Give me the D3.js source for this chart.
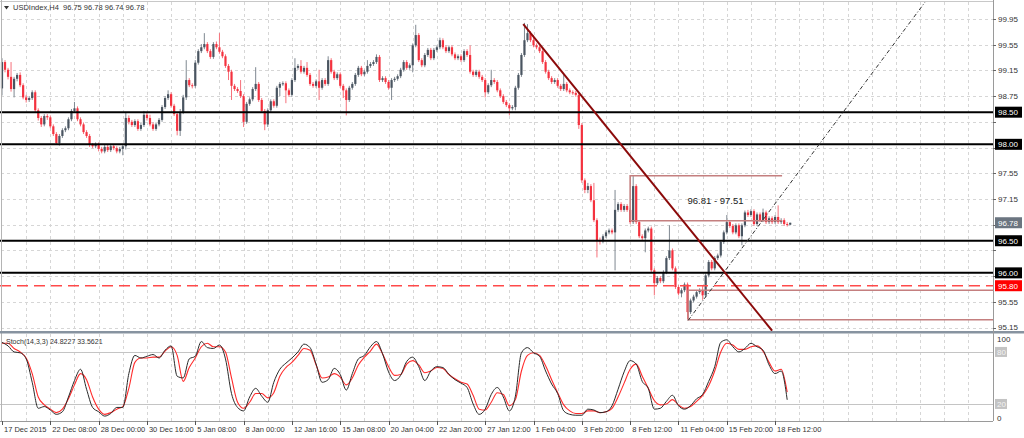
<!DOCTYPE html>
<html><head><meta charset="utf-8">
<script src="https://cdn.jsdelivr.net/npm/d3@7"></script>
<style>
body{margin:0;background:#fff}
svg{display:block}
text{font-family:"Liberation Sans",Arial,sans-serif}
</style>
</head><body>
<svg id="c" width="1024" height="438"></svg>
<script>
// ---------------- DATA ----------------
const symbolTitle = "USDIndex,H4";
const headerOHLC = "96.75 96.78 96.74 96.78";
const stochTitle = "Stoch(14,3,3) 24.8227 33.5621";

const priceTicks = [99.95,99.55,99.15,98.75,98.35,97.95,97.55,97.15,96.75,96.35,95.95,95.55,95.15];
const timeLabels = ["17 Dec 2015","22 Dec 08:00","28 Dec 00:00","30 Dec 16:00","5 Jan 08:00","8 Jan 00:00",
  "12 Jan 16:00","15 Jan 08:00","20 Jan 04:00","22 Jan 20:00","27 Jan 12:00","1 Feb 04:00","3 Feb 20:00",
  "8 Feb 12:00","11 Feb 04:00","15 Feb 20:00","18 Feb 12:00"];
const barsPerLabel = 16;

const supportLevels = [98.50, 98.00, 96.50, 96.00];
const dashedLevel = 95.80;
const lastPrice = 96.78;
const upperRange = [96.81, 97.51];
const lowerRange = [95.27, 95.73];
const rangeText = "96.81 - 97.51";
const trendLine = [[172.6, 99.87], [255.0, 95.10]];
const channelLine = [[227.2, 95.26], [305.6, 100.21]];
const stochLevels = [80, 20];
const stochAxis = [100, 80, 20, 0];

const openP = [
98.87,99.28,99.16,99.05,98.86,99.02,99.08,98.92,98.73,98.69,
98.72,98.81,98.53,98.41,98.31,98.44,98.42,98.28,98.16,98.02,
98.13,98.22,98.25,98.39,98.52,98.56,98.39,98.31,98.19,98.13,
97.99,97.97,98.00,97.93,97.89,97.96,97.91,97.97,97.94,97.89,
97.93,97.97,98.41,98.35,98.30,98.36,98.24,98.30,98.46,98.41,
98.31,98.24,98.31,98.38,98.58,98.72,98.78,98.60,98.47,98.21,
98.50,98.73,99.00,98.92,98.91,99.27,99.45,99.51,99.56,99.45,
99.36,99.56,99.51,99.44,99.37,99.22,99.13,98.91,98.86,98.83,
98.75,98.35,98.63,98.70,98.86,98.94,98.69,98.52,98.31,98.53,
98.67,98.60,98.88,98.94,98.95,98.84,98.77,99.00,99.19,99.22,
99.13,99.19,99.08,98.94,98.91,98.98,98.88,99.00,98.94,99.31,
99.13,99.03,99.09,98.91,98.84,98.69,98.88,98.94,99.08,99.19,
99.09,99.13,99.22,99.25,99.28,99.36,99.00,99.03,98.97,98.88,
99.00,99.02,99.06,99.16,99.28,99.19,99.23,99.54,99.70,99.31,
99.23,99.39,99.47,99.34,99.47,99.51,99.62,99.51,99.45,99.51,
99.40,99.34,99.37,99.31,99.45,99.39,99.13,99.08,99.13,99.05,
99.00,98.81,98.92,99.00,98.97,98.84,98.75,98.66,98.61,98.56,
98.58,98.88,99.08,99.39,99.62,99.73,99.62,99.54,99.51,99.45,
99.28,99.13,99.03,98.97,99.00,98.91,98.86,98.94,98.84,98.81,
98.80,98.77,98.30,97.44,97.29,97.35,97.13,96.82,96.51,96.49,
96.57,96.63,96.66,96.63,96.98,97.07,96.98,97.04,96.98,96.79,
97.35,96.79,96.57,96.54,96.66,96.69,96.04,95.84,95.92,95.87,
96.01,96.23,96.35,96.07,95.78,95.68,95.73,95.82,95.39,95.57,
95.63,95.70,95.73,95.65,95.96,96.17,96.07,96.23,96.27,96.48,
96.63,96.79,96.73,96.63,96.74,96.57,96.74,96.94,96.90,96.96,
96.76,96.91,96.82,96.94,96.79,96.85,96.79,96.87,96.79,96.82,
96.76,96.75];

const highP = [
99.34,99.31,99.19,99.28,99.05,99.11,99.12,98.95,98.77,98.75,
98.84,98.84,98.56,98.44,98.47,98.47,98.45,98.31,98.19,98.16,
98.25,98.28,98.42,98.55,98.66,98.59,98.42,98.34,98.22,98.16,
98.02,98.03,98.03,97.96,97.99,97.99,98.00,98.00,97.97,97.96,
98.00,98.49,98.45,98.38,98.39,98.39,98.33,98.52,98.49,98.46,
98.34,98.34,98.41,98.61,98.75,98.84,98.81,98.63,98.50,98.55,
98.77,99.31,99.03,98.95,99.31,99.48,99.56,99.73,99.59,99.48,
99.59,99.60,99.73,99.47,99.40,99.25,99.16,98.94,98.89,99.00,
98.78,98.66,98.73,98.89,99.20,98.97,98.72,98.55,98.56,98.70,
98.70,98.91,98.97,98.98,98.98,98.87,99.03,99.34,99.25,99.31,
99.22,99.28,99.11,98.97,99.01,99.16,99.03,99.03,99.37,99.34,
99.16,99.12,99.12,98.94,98.87,98.91,98.97,99.11,99.22,99.22,
99.16,99.31,99.28,99.31,99.40,99.39,99.06,99.06,99.00,99.03,
99.05,99.09,99.19,99.31,99.31,99.26,99.57,99.86,99.73,99.34,
99.42,99.50,99.50,99.50,99.54,99.66,99.65,99.54,99.54,99.54,
99.43,99.40,99.40,99.48,99.48,99.54,99.16,99.16,99.16,99.08,
99.03,98.95,99.16,99.03,99.00,98.87,98.78,98.69,98.64,98.61,
98.91,99.11,99.42,99.89,99.87,99.76,99.70,99.57,99.54,99.48,
99.31,99.16,99.06,99.03,99.03,98.94,99.08,98.97,98.87,98.84,
98.83,98.80,98.33,97.47,97.40,97.38,97.40,96.85,96.55,96.60,
96.66,96.69,96.69,97.29,97.10,97.10,97.07,97.07,97.01,97.52,
97.38,96.82,96.60,96.69,96.72,96.72,96.07,95.95,95.95,96.04,
96.26,96.74,96.38,96.10,95.81,95.76,95.85,95.85,95.60,95.66,
95.73,95.76,95.80,95.99,96.20,96.20,96.26,96.30,96.51,96.66,
96.90,96.82,96.76,96.77,96.77,96.77,96.97,96.98,96.99,96.99,
96.94,96.94,97.00,96.97,96.88,96.88,96.90,97.05,96.85,96.85,
96.79,96.78];

const lowP = [
98.76,99.12,99.01,98.82,98.73,98.98,98.89,98.70,98.65,98.66,
98.69,98.50,98.37,98.27,98.28,98.38,98.25,98.13,97.99,97.98,
98.10,98.19,98.22,98.36,98.49,98.36,98.28,98.16,98.10,97.96,
97.94,97.94,97.89,97.86,97.86,97.88,97.88,97.91,97.86,97.86,
97.83,97.92,98.31,98.27,98.27,98.21,98.21,98.27,98.37,98.28,
98.21,98.21,98.28,98.35,98.55,98.69,98.57,98.44,98.14,98.13,
98.47,98.69,98.89,98.87,98.88,99.24,99.42,99.48,99.42,99.33,
99.33,99.48,99.41,99.34,99.19,99.00,98.69,98.83,98.80,98.72,
98.27,98.32,98.60,98.67,98.83,98.66,98.49,98.22,98.27,98.50,
98.57,98.57,98.75,98.91,98.64,98.74,98.74,98.97,99.16,99.10,
99.10,99.05,98.91,98.88,98.88,98.69,98.85,98.91,98.91,99.10,
99.00,99.00,98.88,98.72,98.45,98.66,98.85,98.91,99.05,99.06,
99.06,99.10,99.19,99.22,99.25,98.97,98.97,98.94,98.85,98.69,
98.97,98.99,99.03,99.13,99.16,99.16,99.12,99.51,99.28,99.20,
99.20,99.36,99.31,99.31,99.44,99.48,99.48,99.42,99.42,99.37,
99.31,99.31,99.28,99.28,99.36,99.10,99.05,99.05,99.02,98.97,
98.73,98.78,98.89,98.94,98.81,98.72,98.63,98.58,98.45,98.53,
98.53,98.85,99.05,99.36,99.59,99.59,99.51,99.48,99.42,99.25,
99.10,99.00,98.94,98.94,98.88,98.83,98.83,98.81,98.78,98.77,
98.74,98.24,97.40,97.24,97.24,97.10,96.79,96.24,96.44,96.46,
96.54,96.60,96.60,96.04,96.95,96.95,96.95,96.95,96.76,96.76,
96.76,96.54,96.50,96.32,96.63,96.01,95.65,95.81,95.84,95.84,
95.98,96.20,96.04,95.75,95.65,95.62,95.70,95.28,95.36,95.54,
95.60,95.67,95.58,95.62,95.93,96.04,96.04,96.20,96.24,96.45,
96.60,96.70,96.60,96.60,96.54,96.43,96.71,96.87,96.87,96.73,
96.73,96.79,96.79,96.76,96.76,96.76,96.76,96.76,96.76,96.73,
96.72,96.74];

const closeP = [
99.28,99.16,99.05,98.86,99.02,99.08,98.92,98.73,98.69,98.72,
98.81,98.53,98.41,98.31,98.44,98.42,98.28,98.16,98.02,98.13,
98.22,98.25,98.39,98.52,98.56,98.39,98.31,98.19,98.13,97.99,
97.97,98.00,97.93,97.89,97.96,97.91,97.97,97.94,97.89,97.93,
97.97,98.41,98.35,98.30,98.36,98.24,98.30,98.46,98.41,98.31,
98.24,98.31,98.38,98.58,98.72,98.78,98.60,98.47,98.21,98.50,
98.73,99.00,98.92,98.91,99.27,99.45,99.51,99.56,99.45,99.36,
99.56,99.51,99.44,99.37,99.22,99.13,98.91,98.86,98.83,98.75,
98.35,98.63,98.70,98.86,98.94,98.69,98.52,98.31,98.53,98.67,
98.60,98.88,98.94,98.95,98.84,98.77,99.00,99.19,99.22,99.13,
99.19,99.08,98.94,98.91,98.98,98.88,99.00,98.94,99.31,99.13,
99.03,99.09,98.91,98.84,98.69,98.88,98.94,99.08,99.19,99.09,
99.13,99.22,99.25,99.28,99.36,99.00,99.03,98.97,98.88,99.00,
99.02,99.06,99.16,99.28,99.19,99.23,99.54,99.70,99.31,99.23,
99.39,99.47,99.34,99.47,99.51,99.62,99.51,99.45,99.51,99.40,
99.34,99.37,99.31,99.45,99.39,99.13,99.08,99.13,99.05,99.00,
98.81,98.92,99.00,98.97,98.84,98.75,98.66,98.61,98.56,98.58,
98.88,99.08,99.39,99.62,99.73,99.62,99.54,99.51,99.45,99.28,
99.13,99.03,98.97,99.00,98.91,98.86,98.94,98.84,98.81,98.80,
98.77,98.30,97.44,97.29,97.35,97.13,96.82,96.51,96.49,96.57,
96.63,96.66,96.63,96.98,97.07,96.98,97.04,96.98,96.79,97.35,
96.79,96.57,96.54,96.66,96.69,96.04,95.84,95.92,95.87,96.01,
96.23,96.35,96.07,95.78,95.68,95.73,95.82,95.39,95.57,95.63,
95.70,95.73,95.65,95.96,96.17,96.07,96.23,96.27,96.48,96.63,
96.79,96.73,96.63,96.74,96.57,96.74,96.94,96.90,96.96,96.76,
96.91,96.82,96.94,96.79,96.85,96.79,96.87,96.79,96.82,96.76,
96.75,96.78];

// Stochastic read every 2 bars
const stochK = [
91,87,80,79,72,45,15,17,13,8, 11,28,47,60,37,16,11,6,9,16,
16,55,76,73,75,77,73,82,87,52, 50,72,75,92,85,84,88,72,32,16,
12,28,38,29,22,45,60,67,73,80, 89,85,66,45,48,61,54,36,55,72,
76,86,92,78,57,47,53,69,74,63, 47,58,63,62,54,48,44,39,20,8,
14,31,39,28,12,29,79,85,79,75, 58,43,32,12,8,7,7,14,13,10,
11,18,37,57,70,66,46,38,14,15, 23,30,18,14,18,26,31,46,63,91,
94,86,80,84,90,86,82,65,55,58, 24.8];
const stochD = [
90,90,84,80,73,55,28,19,14,10, 14,26,42,55,48,28,14,8,10,14,
17,38,68,73,73,74,74,81,86,76, 46,62,73,86,90,86,86,80,50,22,
15,22,32,32,27,33,52,62,68,76, 84,82,65,50,51,55,51,42,50,65,
74,81,89,78,63,53,54,66,70,65, 56,58,62,61,54,49,45,43,30,14,
13,22,33,31,18,25,58,76,79,76, 64,48,33,19,12,9,9,12,12,10,
11,15,28,44,60,66,52,38,24,19, 20,25,19,15,17,23,30,41,58,80,
90,88,83,83,86,87,81,68,58,60, 33.56];
const stochStep = 2;

// ---------------- LAYOUT ----------------
const AX = 993;             // right price axis
const mainTop = 2, mainBot = 331;
const stTop = 334, stBot = 421;
const svg = d3.select('#c');

const x = d3.scaleLinear().domain([0, 16]).range([2, 2 + 3.02 * 16]);
const y = d3.scaleLinear().domain([95.15, 99.95]).range([327.5, 19]);
const ys = d3.scaleLinear().domain([0, 100]).range([421.3, 334.6]);

const defs = svg.append('defs');
defs.append('clipPath').attr('id', 'mainClip').append('rect')
  .attr('x', 0).attr('y', mainTop).attr('width', AX).attr('height', mainBot - mainTop);
defs.append('clipPath').attr('id', 'stClip').append('rect')
  .attr('x', 0).attr('y', stTop).attr('width', AX).attr('height', stBot - stTop);

const gridColor = '#d6d6d6';
svg.append('g').selectAll('line').data(priceTicks).join('line')
  .attr('x1', 1).attr('x2', AX)
  .attr('y1', d => Math.round(y(d)) + 0.5).attr('y2', d => Math.round(y(d)) + 0.5)
  .attr('stroke', gridColor).attr('stroke-dasharray', '3,3');
const gridBars = d3.range(8, 340, 8).filter(b => x(b) < AX - 2);
const vg = svg.append('g');
vg.selectAll('.vm').data(gridBars).join('line')
  .attr('x1', d => Math.round(x(d)) + 0.5).attr('x2', d => Math.round(x(d)) + 0.5)
  .attr('y1', mainTop).attr('y2', mainBot)
  .attr('stroke', gridColor).attr('stroke-dasharray', '3,3');
vg.selectAll('.vs').data(gridBars).join('line')
  .attr('x1', d => Math.round(x(d)) + 0.5).attr('x2', d => Math.round(x(d)) + 0.5)
  .attr('y1', stTop).attr('y2', stBot)
  .attr('stroke', gridColor).attr('stroke-dasharray', '3,3');

// ---------------- CANDLES ----------------
const bull = '#4a5561', bear = '#f4323f';
const bullW = '#7f8891', bearW = '#f6707a';
const idx = d3.range(closeP.length);
const cg = svg.append('g').attr('clip-path', 'url(#mainClip)');
cg.selectAll('.wick').data(idx).join('line')
  .attr('x1', i => x(i)).attr('x2', i => x(i))
  .attr('y1', i => y(highP[i])).attr('y2', i => y(lowP[i]))
  .attr('stroke', i => closeP[i] >= openP[i] ? bullW : bearW).attr('stroke-width', 1);
cg.selectAll('.body').data(idx).join('rect')
  .attr('x', i => x(i) - 1.1).attr('width', 2.2)
  .attr('y', i => y(Math.max(openP[i], closeP[i])))
  .attr('height', i => Math.max(1, Math.abs(y(openP[i]) - y(closeP[i]))))
  .attr('fill', i => closeP[i] >= openP[i] ? bull : bear);

// ---------------- OBJECTS ----------------
const og = svg.append('g').attr('clip-path', 'url(#mainClip)');
og.selectAll('.lvl').data(supportLevels).join('line')
  .attr('x1', 0).attr('x2', AX)
  .attr('y1', d => y(d)).attr('y2', d => y(d))
  .attr('stroke', '#000').attr('stroke-width', 2);
og.append('line').attr('x1', 0).attr('x2', AX)
  .attr('y1', y(dashedLevel)).attr('y2', y(dashedLevel))
  .attr('stroke', '#ff4a4a').attr('stroke-width', 1.4).attr('stroke-dasharray', '11,6');

const rangeColor = '#c47f7f';
const ub0 = 208, ub1 = 258.3;
og.append('path').attr('fill', 'none').attr('stroke', rangeColor).attr('stroke-width', 1.6)
  .attr('d', `M${x(ub1)},${y(upperRange[1])}H${x(ub0)}V${y(upperRange[0])}H${x(ub1)}`);
const lb0 = 227.2;
og.append('path').attr('fill', 'none').attr('stroke', rangeColor).attr('stroke-width', 1.6)
  .attr('d', `M${AX},${y(lowerRange[1])}H${x(lb0)}V${y(lowerRange[0])}H${AX}`);

og.append('line')
  .attr('x1', x(trendLine[0][0])).attr('y1', y(trendLine[0][1]))
  .attr('x2', x(trendLine[1][0])).attr('y2', y(trendLine[1][1]))
  .attr('stroke', '#8b0a0a').attr('stroke-width', 2);
og.append('line')
  .attr('x1', x(channelLine[0][0])).attr('y1', y(channelLine[0][1]))
  .attr('x2', x(channelLine[1][0])).attr('y2', y(channelLine[1][1]))
  .attr('stroke', '#333').attr('stroke-width', 1).attr('stroke-dasharray', '4,2,1,2');

svg.append('text').attr('x', x(227)).attr('y', 204).attr('font-size', 9.5).attr('fill', '#222')
  .text(rangeText);

// ---------------- STOCHASTIC ----------------
const sg = svg.append('g').attr('clip-path', 'url(#stClip)');
sg.selectAll('.lv').data(stochLevels).join('line')
  .attr('x1', 0).attr('x2', AX).attr('y1', d => Math.round(ys(d)) + 0.5).attr('y2', d => Math.round(ys(d)) + 0.5)
  .attr('stroke', '#c4c4c4').attr('stroke-width', 1);
const stLine = d3.line().x((d, k) => x(k * stochStep)).y(d => ys(d)).curve(d3.curveMonotoneX);
sg.append('path').datum(stochD).attr('d', stLine).attr('fill', 'none').attr('stroke', '#ff2b2b').attr('stroke-width', 1.1);
sg.append('path').datum(stochK).attr('d', stLine).attr('fill', 'none').attr('stroke', '#2a2a2a').attr('stroke-width', 1);

// ---------------- FRAMES ----------------
svg.append('line').attr('x1', 0).attr('x2', AX).attr('y1', 1.5).attr('y2', 1.5).attr('stroke', '#c8c8c8');
svg.append('line').attr('x1', 1.5).attr('x2', 1.5).attr('y1', 0).attr('y2', stBot).attr('stroke', '#b4b4b4');
svg.append('rect').attr('x', 0).attr('y', mainBot).attr('width', AX + 31).attr('height', 2.5).attr('fill', '#8793a0');
svg.append('line').attr('x1', AX + 0.5).attr('x2', AX + 0.5).attr('y1', 0).attr('y2', stBot).attr('stroke', '#9a9a9a');
svg.append('line').attr('x1', 0).attr('x2', AX).attr('y1', stBot + 0.5).attr('y2', stBot + 0.5).attr('stroke', '#9a9a9a');

// ---------------- PRICE AXIS ----------------
const boxes = supportLevels.map(v => ({v, bg: '#000', fg: '#fff'}))
  .concat([{v: dashedLevel, bg: '#ff0000', fg: '#fff'}, {v: lastPrice, bg: '#6b7580', fg: '#fff'}]);
const pa = svg.append('g').attr('font-size', 8).attr('fill', '#333');
pa.selectAll('line').data(priceTicks).join('line')
  .attr('x1', AX).attr('x2', AX + 3).attr('y1', d => Math.round(y(d)) + 0.5).attr('y2', d => Math.round(y(d)) + 0.5)
  .attr('stroke', '#666');
// tick labels covered by a highlighted price box are hidden, as in the terminal
const freeTicks = priceTicks.filter(t => boxes.every(b => Math.abs(y(t) - y(b.v)) > 10));
pa.selectAll('text').data(freeTicks).join('text')
  .attr('x', AX + 5).attr('y', d => y(d)).attr('dy', '0.35em').text(d => d.toFixed(2));

const bx = svg.append('g');
bx.selectAll('rect').data(boxes).join('rect')
  .attr('x', AX + 2).attr('y', d => y(d.v) - 5.5).attr('width', 27).attr('height', 11).attr('fill', d => d.bg);
bx.selectAll('text').data(boxes).join('text')
  .attr('x', AX + 5).attr('y', d => y(d.v)).attr('dy', '0.35em').attr('font-size', 8)
  .attr('fill', d => d.fg).text(d => d.v.toFixed(2));

// stochastic axis
const sa = svg.append('g').attr('font-size', 8);
sa.selectAll('rect').data(stochLevels).join('rect')
  .attr('x', AX + 2).attr('y', d => ys(d) - 5).attr('width', 12).attr('height', 10).attr('fill', '#c3c3c3');
sa.selectAll('text').data(stochAxis).join('text')
  .attr('x', AX + 4).attr('y', d => Math.min(Math.max(ys(d), 339), 418)).attr('dy', '0.35em')
  .attr('fill', d => (d === 80 || d === 20) ? '#f4f4f4' : '#333').text(d => d);

// ---------------- TIME AXIS ----------------
const ta = svg.append('g').attr('font-size', 7.5).attr('fill', '#333');
ta.selectAll('line').data(timeLabels).join('line')
  .attr('x1', (d, j) => Math.round(x(j * barsPerLabel)) + 0.5).attr('x2', (d, j) => Math.round(x(j * barsPerLabel)) + 0.5)
  .attr('y1', stBot).attr('y2', stBot + 4).attr('stroke', '#555');
ta.selectAll('text').data(timeLabels).join('text')
  .attr('x', (d, j) => x(j * barsPerLabel) + 2).attr('y', 432).text(d => d);

// ---------------- HEADERS ----------------
svg.append('path').attr('d', 'M4,6 L9,6 L6.5,9.5 Z').attr('fill', '#333');
svg.append('text').attr('x', 13).attr('y', 10).attr('font-size', 7.5).attr('fill', '#333')
  .style('white-space', 'pre').text(symbolTitle + '  ' + headerOHLC);
svg.append('text').attr('x', 6).attr('y', 344).attr('font-size', 7).attr('fill', '#333')
  .text(stochTitle);
</script>
</body></html>
